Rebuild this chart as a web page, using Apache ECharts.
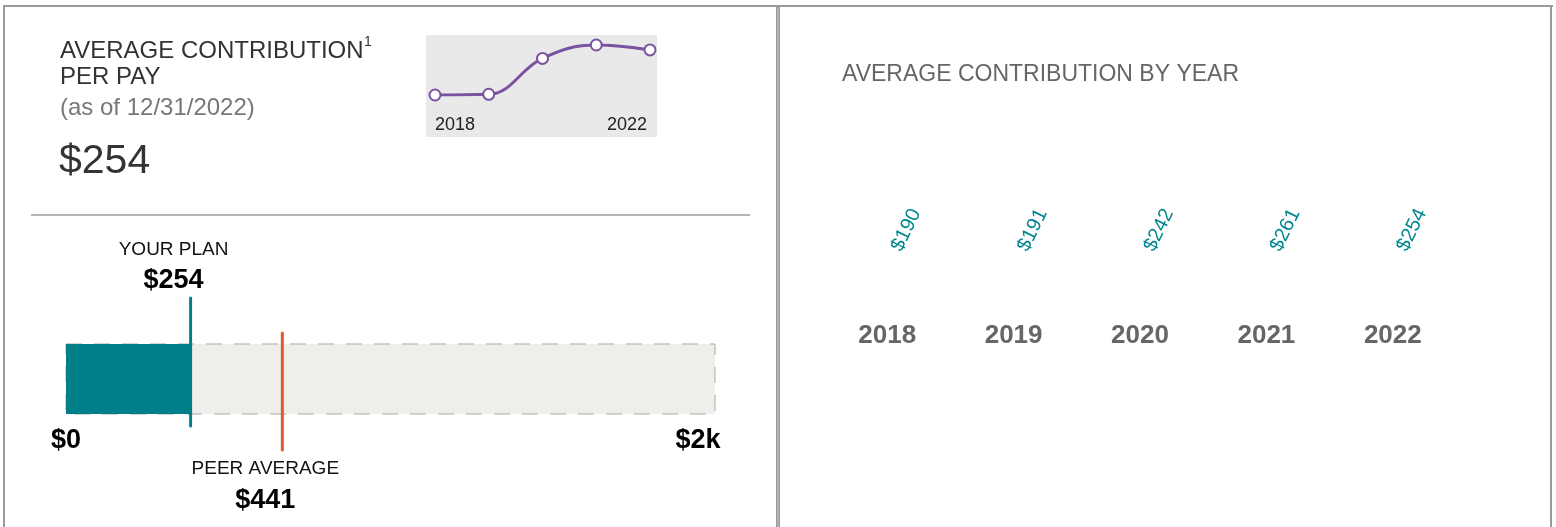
<!DOCTYPE html>
<html>
<head>
<meta charset="utf-8">
<script src="https://cdn.jsdelivr.net/npm/echarts@6/dist/echarts.min.js"></script>
<style>
html,body{margin:0;padding:0;background:#fff;}
#chart{width:1556px;height:527px;}
</style>
</head>
<body>
<div id="chart"></div>
<script>
// ---- data ----
const years = ['2018', '2019', '2020', '2021', '2022'];
const avgContribution = [190, 191, 242, 261, 254];
const yourPlan = 254;
const peerAverage = 441;
const bulletMax = 1323;
const bulletTickLabels = ['$0', '$2k'];
const sparkTickLabels = ['2018', '2022'];

const FONT = '"Liberation Sans", Arial, Helvetica, sans-serif';
const TEAL = '#007f89';
const PURPLE = '#7a53a0';
const ORANGE = '#e4572a';
const BORDER = '#9a9a9a';

const chart = echarts.init(document.getElementById('chart'), null, {renderer: 'canvas'});

function markerSeries(value, color, lineTop, lineBottom, title, titleDy, valDy) {
  return {
    type: 'custom',
    coordinateSystem: 'cartesian2d',
    xAxisIndex: 1, yAxisIndex: 1,
    z: 5,
    silent: true,
    data: [[value, 0]],
    renderItem: function (params, api) {
      const p = api.coord([api.value(0), 0]);
      const x = p[0], cy = p[1];
      return {
        type: 'group',
        children: [
          {type: 'line', shape: {x1: x, y1: cy + lineTop, x2: x, y2: cy + lineBottom},
           style: {stroke: color, lineWidth: 3, lineCap: 'round'}},
          {type: 'text', style: {x: x - 17, y: cy + titleDy, text: title, fill: '#111',
            font: '19px ' + FONT, align: 'center', verticalAlign: 'middle'}},
          {type: 'text', style: {x: x - 17, y: cy + valDy, text: '$' + api.value(0), fill: '#000',
            font: 'bold 27px ' + FONT, align: 'center', verticalAlign: 'middle'}}
        ]
      };
    }
  };
}

const option = {
  animation: false,
  backgroundColor: '#fff',
  graphic: [
    // panel borders
    {type: 'rect', shape: {x: 3, y: 5, width: 1550, height: 2}, style: {fill: BORDER}, z: 10},
    {type: 'rect', shape: {x: 3, y: 5, width: 2, height: 530}, style: {fill: BORDER}, z: 10},
    {type: 'rect', shape: {x: 776, y: 5, width: 4, height: 530}, style: {fill: BORDER}, z: 10},
    {type: 'rect', shape: {x: 777.5, y: 7, width: 1, height: 530}, style: {fill: '#c8c8c8'}, z: 11},
    {type: 'rect', shape: {x: 1550, y: 5, width: 2, height: 530}, style: {fill: BORDER}, z: 10},
    // separator
    {type: 'rect', shape: {x: 31, y: 214, width: 719, height: 2}, style: {fill: '#b5b5b5'}},
    // sparkline background
    {type: 'rect', shape: {x: 426, y: 35, width: 231, height: 102}, style: {fill: '#e9e9e9'}, z: -1},
    // left titles
    {type: 'text', style: {x: 60, y: 51, text: 'AVERAGE CONTRIBUTION', fill: '#333', font: '24px ' + FONT, verticalAlign: 'middle'}},
    {type: 'text', style: {x: 364, y: 42, text: '1', fill: '#333', font: '14px ' + FONT, verticalAlign: 'middle'}},
    {type: 'text', style: {x: 60, y: 77, text: 'PER PAY', fill: '#333', font: '24px ' + FONT, verticalAlign: 'middle'}},
    {type: 'text', style: {x: 60, y: 108, text: '(as of 12/31/2022)', fill: '#777', font: '24px ' + FONT, verticalAlign: 'middle'}},
    {type: 'text', style: {x: 59, y: 162, text: '$' + avgContribution[avgContribution.length - 1], fill: '#333', font: '41px ' + FONT, verticalAlign: 'middle'}},
    // right title
    {type: 'text', style: {x: 842, y: 75, text: 'AVERAGE CONTRIBUTION BY YEAR', fill: '#666', font: '23px ' + FONT, verticalAlign: 'middle'}}
  ],
  grid: [
    {left: 435, right: 1556 - 650, top: 45, height: 50},
    {left: 66, right: 1556 - 715, top: 344, height: 70},
    {left: 824, right: 100, top: 150, bottom: 227}
  ],
  xAxis: [
    {gridIndex: 0, type: 'category', data: years, boundaryGap: false,
     axisLine: {show: false}, axisTick: {show: false}, splitLine: {show: false},
     axisLabel: {
       interval: function (i) { return i === 0 || i === years.length - 1; },
       formatter: function (v, i) { return i === 0 ? sparkTickLabels[0] : '{r|' + sparkTickLabels[1] + '}'; },
       color: '#222', fontSize: 18, fontFamily: FONT, margin: 21,
       alignMinLabel: 'left', alignMaxLabel: 'right',
       rich: {r: {color: '#222', fontSize: 18, fontFamily: FONT, padding: [0, 3, 0, 0]}}
     }},
    {gridIndex: 1, type: 'value', min: 0, max: bulletMax, interval: bulletMax,
     axisLine: {show: false}, axisTick: {show: false}, splitLine: {show: false},
     axisLabel: {
       formatter: function (v) { return v === 0 ? bulletTickLabels[0] : '{r|' + bulletTickLabels[1] + '}'; },
       color: '#000', fontSize: 27, fontWeight: 'bold', fontFamily: FONT, margin: 13,
       alignMinLabel: 'center', alignMaxLabel: 'center',
       rich: {r: {color: '#000', fontSize: 27, fontWeight: 'bold', fontFamily: FONT, padding: [0, 34, 0, 0]}}
     }},
    {gridIndex: 2, type: 'category', data: years,
     axisLine: {show: false}, axisTick: {show: false}, splitLine: {show: false},
     axisLabel: {color: '#666', fontSize: 26, fontWeight: 'bold', fontFamily: FONT, margin: 23}}
  ],
  yAxis: [
    {gridIndex: 0, type: 'value', min: 'dataMin', max: 'dataMax', show: false},
    {gridIndex: 1, type: 'category', data: ['plan'], show: false},
    {gridIndex: 2, type: 'value', min: 0, show: false}
  ],
  series: [
    {type: 'line', xAxisIndex: 0, yAxisIndex: 0, data: avgContribution, smooth: 0.4,
     lineStyle: {color: PURPLE, width: 3}, itemStyle: {color: '#fff', borderColor: PURPLE, borderWidth: 2},
     symbol: 'circle', symbolSize: 11, showSymbol: true, silent: true},
    {type: 'bar', xAxisIndex: 1, yAxisIndex: 1, data: [yourPlan], barWidth: '100%',
     itemStyle: {color: TEAL}, showBackground: true, silent: true,
     backgroundStyle: {color: '#efeeeb', borderColor: '#a8a8a8', borderWidth: 1, borderType: [16, 12]}},
    markerSeries(yourPlan, TEAL, -81, 47, 'YOUR PLAN', -129, -98),
    markerSeries(peerAverage, ORANGE, -46, 71, 'PEER AVERAGE', 90, 122),
    {type: 'custom', coordinateSystem: 'cartesian2d', xAxisIndex: 2, yAxisIndex: 2, silent: true,
     data: avgContribution.map(function (v, i) { return [i, v]; }),
     renderItem: function (params, api) {
       const p = api.coord([api.value(0), 0]);
       return {
         type: 'text', x: p[0] + 19, y: p[1] - 70, rotation: 64 * Math.PI / 180,
         style: {text: '$' + api.value(1), fill: '#00868f', font: '20px ' + FONT,
                 align: 'center', verticalAlign: 'middle'}
       };
     }}
  ]
};
chart.setOption(option);
</script>
</body>
</html>
